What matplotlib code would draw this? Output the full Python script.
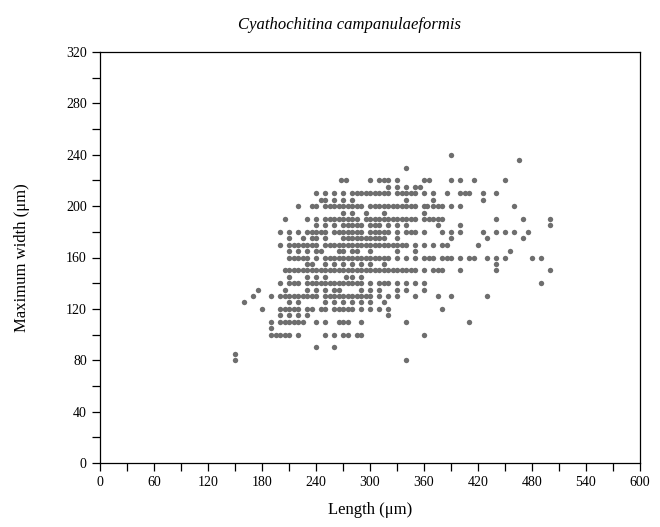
import matplotlib
matplotlib.use("Agg")
import matplotlib.pyplot as plt
import numpy as np
from matplotlib.ticker import MultipleLocator

# Maximum width (um) of each row of points, with the lengths (um) found on that row
row_widths = [240, 236, 230, 220, 215, 210, 205, 200, 195, 190, 185, 180, 175, 170,
              165, 160, 155, 150, 145, 140, 135, 130, 125, 120, 115, 110, 105, 100,
              90, 85, 80]
row_lengths = [
    [390],
    [465],
    [340],
    [268, 273, 300, 310, 315, 320, 330, 360, 365, 390, 400, 415, 450],
    [320, 330, 340, 350, 355],
    [240, 250, 260, 270, 280, 285, 290, 295, 300, 305, 310, 315, 320, 330, 335, 340,
     345, 350, 360, 370, 385, 400, 405, 410, 425, 440],
    [245, 250, 260, 270, 280, 340, 370, 425],
    [220, 235, 240, 250, 255, 260, 265, 270, 275, 280, 285, 290, 300, 305, 310, 315,
     320, 325, 330, 335, 340, 345, 350, 360, 363, 370, 375, 380, 390, 400, 460],
    [270, 280, 295, 315, 360],
    [205, 230, 240, 250, 255, 260, 265, 270, 275, 280, 285, 295, 300, 305, 310, 315,
     320, 325, 330, 335, 340, 345, 350, 360, 365, 370, 375, 380, 440, 470, 500],
    [240, 250, 260, 270, 275, 280, 285, 290, 300, 305, 310, 320, 330, 340, 375, 400, 500],
    [200, 210, 220, 230, 235, 240, 245, 250, 260, 265, 270, 275, 280, 285, 290, 300,
     305, 310, 315, 320, 330, 340, 345, 350, 360, 380, 390, 400, 425, 440, 450, 460, 475],
    [210, 225, 235, 240, 250, 270, 275, 280, 285, 290, 295, 300, 305, 310, 315, 330,
     390, 430, 470],
    [200, 210, 215, 220, 225, 230, 235, 240, 250, 255, 260, 265, 270, 275, 280, 285,
     290, 295, 300, 305, 310, 315, 320, 325, 330, 335, 340, 350, 360, 370, 380, 385, 420],
    [210, 220, 230, 240, 245, 265, 270, 280, 285, 300, 330, 350, 455],
    [210, 215, 220, 225, 230, 240, 250, 255, 260, 265, 270, 275, 280, 285, 290, 295,
     300, 305, 310, 315, 320, 330, 340, 350, 360, 365, 370, 380, 385, 390, 400, 410,
     415, 430, 440, 450, 480, 490],
    [230, 235, 250, 260, 270, 280, 290, 300, 315, 440],
    [205, 210, 215, 220, 225, 230, 235, 240, 245, 250, 255, 260, 265, 270, 275, 280,
     285, 290, 295, 300, 305, 310, 315, 320, 325, 330, 335, 340, 345, 350, 360, 370,
     375, 380, 400, 440, 500],
    [210, 230, 240, 250, 273, 280, 290],
    [200, 210, 215, 220, 230, 235, 240, 245, 250, 255, 260, 265, 270, 275, 280, 285,
     290, 300, 310, 315, 320, 330, 340, 350, 360, 490],
    [175, 205, 230, 240, 250, 260, 265, 290, 300, 310, 330, 340, 360],
    [170, 190, 200, 205, 210, 215, 220, 225, 230, 235, 240, 250, 255, 260, 265, 270,
     275, 280, 285, 290, 295, 300, 310, 320, 330, 350, 375, 390, 430],
    [160, 210, 220, 250, 260, 270, 280, 290, 300, 315],
    [180, 200, 205, 210, 215, 220, 230, 235, 245, 250, 260, 265, 270, 275, 280, 290,
     300, 310, 320, 380],
    [200, 210, 220, 230, 320],
    [190, 200, 205, 210, 215, 220, 225, 240, 250, 265, 270, 275, 290, 340, 410],
    [190],
    [190, 195, 200, 205, 210, 220, 250, 260, 270, 275, 285, 290, 360],
    [240, 260],
    [150],
    [150, 340],
]

x_ticks = [0, 60, 120, 180, 240, 300, 360, 420, 480, 540, 600]
y_ticks = [0, 40, 80, 120, 160, 200, 240, 280, 320]

length = np.concatenate([np.array(l, dtype=float) for l in row_lengths])
width = np.concatenate([np.full(len(l), w, dtype=float) for w, l in zip(row_widths, row_lengths)])

plt.rcParams['font.family'] = ['Liberation Serif', 'DejaVu Serif']

fig = plt.figure(figsize=(6.6, 5.27), dpi=100)
ax = fig.add_axes([100/660, 1-463/527, 540/660, 411/527])

ax.scatter(length, width, s=15, color='#6e6e6e', linewidths=0, zorder=3)

ax.set_xlim(0, 600)
ax.set_ylim(0, 320)
ax.set_xticks(x_ticks)
ax.set_yticks(y_ticks)
ax.xaxis.set_minor_locator(MultipleLocator(30))
ax.yaxis.set_minor_locator(MultipleLocator(20))
ax.tick_params(which='both', direction='out', top=False, right=False, labelsize=10)
ax.tick_params(which='major', length=6, width=0.9)
ax.tick_params(which='minor', length=6, width=0.9)
for s in ax.spines.values():
    s.set_linewidth(0.9)

# axis titles placed like the reference
fig.text(370/660, 1-510/527, 'Length (\u03bcm)', ha='center', va='center', fontsize=12)
fig.text(22/660, 1-258/527, 'Maximum width (\u03bcm)', ha='center', va='center',
         fontsize=12, rotation=90)
fig.text(0.53, 0.953, 'Cyathochitina campanulaeformis', ha='center', va='center',
         fontsize=12, style='italic')

plt.savefig('out.png', dpi=100)
plt.close()
